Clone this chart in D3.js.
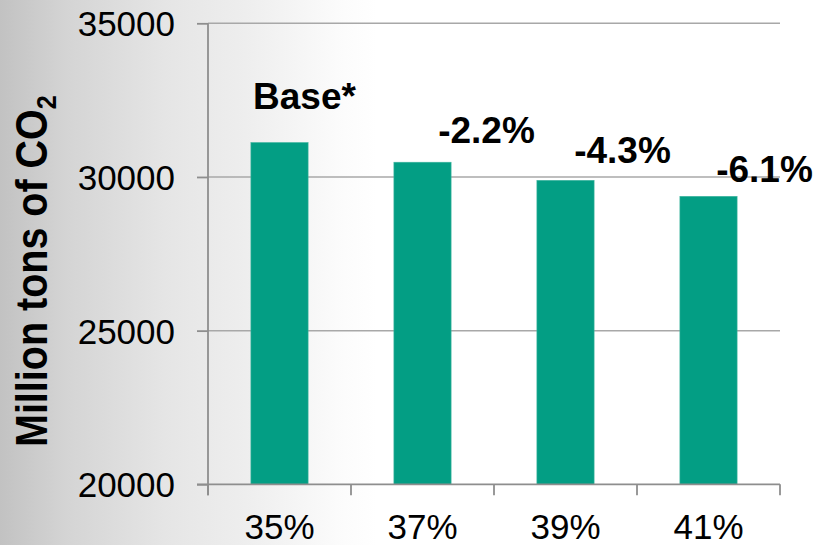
<!DOCTYPE html>
<html>
<head>
<meta charset="utf-8">
<script src="https://cdn.jsdelivr.net/npm/d3@7"></script>
<style>
  html, body { margin: 0; padding: 0; background: #fff; }
  svg { display: block; }
  text { font-family: "Liberation Sans", Arial, sans-serif; fill: #000; }
</style>
</head>
<body>
<svg id="chart" width="819" height="545"></svg>
<script>
// Emissions under each efficiency scenario
const categories = ["35%", "37%", "39%", "41%"];
const emissions = [31120, 30480, 29890, 29370];
const changeLabels = ["Base*", "-2.2%", "-4.3%", "-6.1%"];
const yTicks = [20000, 25000, 30000, 35000];
const yTitle = "Million tons of CO";
const yTitleSub = "2";

const W = 819, H = 545;
const plot = { left: 208, right: 780, top: 23.3, bottom: 484.3 };

const svg = d3.select("#chart");

// soft grey-to-white backdrop
const defs = svg.append("defs");
const grad = defs.append("linearGradient").attr("id", "bg")
  .attr("x1", 0).attr("x2", 1).attr("y1", 0).attr("y2", 0);
[[0, "#c2c2c2"], [0.08, "#d4d4d4"], [0.2, "#e5e5e5"], [0.3, "#eeeeee"], [0.42, "#fcfcfc"], [0.46, "#ffffff"], [1, "#ffffff"]]
  .forEach(([o, c]) => grad.append("stop").attr("offset", o).attr("stop-color", c));
svg.append("rect").attr("width", W).attr("height", H).attr("fill", "url(#bg)");

const x = d3.scaleBand().domain(categories).range([plot.left, plot.right]).paddingInner(0.6).paddingOuter(0.3);
const xEdges = d3.scaleBand().domain(categories).range([plot.left, plot.right]);
const y = d3.scaleLinear().domain([20000, 35000]).range([plot.bottom, plot.top]);

const axisColor = "#8e8e8e";

// horizontal gridlines
svg.append("g").selectAll("line").data(yTicks.filter(t => t > 20000)).join("line")
  .attr("x1", plot.left).attr("x2", plot.right)
  .attr("y1", d => y(d)).attr("y2", d => y(d))
  .attr("stroke", "#a8a8a8").attr("stroke-width", 1.5);

// bars
svg.append("g").selectAll("rect").data(emissions).join("rect")
  .attr("x", (d, i) => x(categories[i]))
  .attr("width", x.bandwidth())
  .attr("y", d => y(d))
  .attr("height", d => y(20000) - y(d))
  .attr("fill", "#039e84")
  .attr("stroke", "#3fb59f").attr("stroke-width", 0.6);

// y axis
const yAxis = d3.axisLeft(y).tickValues(yTicks).tickSize(11).tickPadding(22).tickFormat(d3.format("d"));
const gy = svg.append("g").attr("transform", `translate(${plot.left},0)`).call(yAxis);
gy.select(".domain").remove();
gy.selectAll(".tick line").attr("stroke", axisColor).attr("stroke-width", 1.8);
gy.selectAll(".tick text").attr("font-size", 35).attr("fill", "#000")
  .attr("font-family", "Liberation Sans, Arial, sans-serif").attr("dy", "0.36em");
svg.append("line").attr("x1", plot.left).attr("x2", plot.left)
  .attr("y1", plot.top).attr("y2", plot.bottom + 11)
  .attr("stroke", axisColor).attr("stroke-width", 1.8);

// x axis
svg.append("line").attr("x1", plot.left - 11).attr("x2", plot.right)
  .attr("y1", plot.bottom).attr("y2", plot.bottom)
  .attr("stroke", axisColor).attr("stroke-width", 1.8);
const edges = categories.map(c => xEdges(c)).concat([plot.right]);
svg.append("g").selectAll("line").data(edges).join("line")
  .attr("x1", d => d).attr("x2", d => d)
  .attr("y1", plot.bottom).attr("y2", plot.bottom + 11)
  .attr("stroke", axisColor).attr("stroke-width", 1.8);
svg.append("g").selectAll("text").data(categories).join("text")
  .attr("x", d => x(d) + x.bandwidth() / 2)
  .attr("y", 539)
  .attr("text-anchor", "middle")
  .attr("font-size", 35)
  .text(d => d);

// change labels above the bars
const labelShift = [{ dx: 25, dy: -34 }, { dx: 64, dy: -19 }, { dx: 57, dy: -17 }, { dx: 56, dy: -14.5 }];
svg.append("g").selectAll("text").data(changeLabels).join("text")
  .attr("x", (d, i) => x(categories[i]) + x.bandwidth() / 2 + labelShift[i].dx)
  .attr("y", (d, i) => y(emissions[i]) + labelShift[i].dy)
  .attr("text-anchor", "middle")
  .attr("font-size", 37)
  .attr("font-weight", "bold")
  .text(d => d);

// rotated axis title with subscript
const title = svg.append("text")
  .attr("transform", "translate(46.5,447) rotate(-90)")
  .attr("font-size", 44)
  .attr("font-weight", "bold");
title.append("tspan").text(yTitle);
title.append("tspan").attr("font-size", 28).attr("dy", 9).text(yTitleSub);
const len = title.node().getComputedTextLength();
const target = 352;
title.attr("transform", `translate(46.5,447) rotate(-90) scale(${target / len},1)`);
</script>
</body>
</html>
